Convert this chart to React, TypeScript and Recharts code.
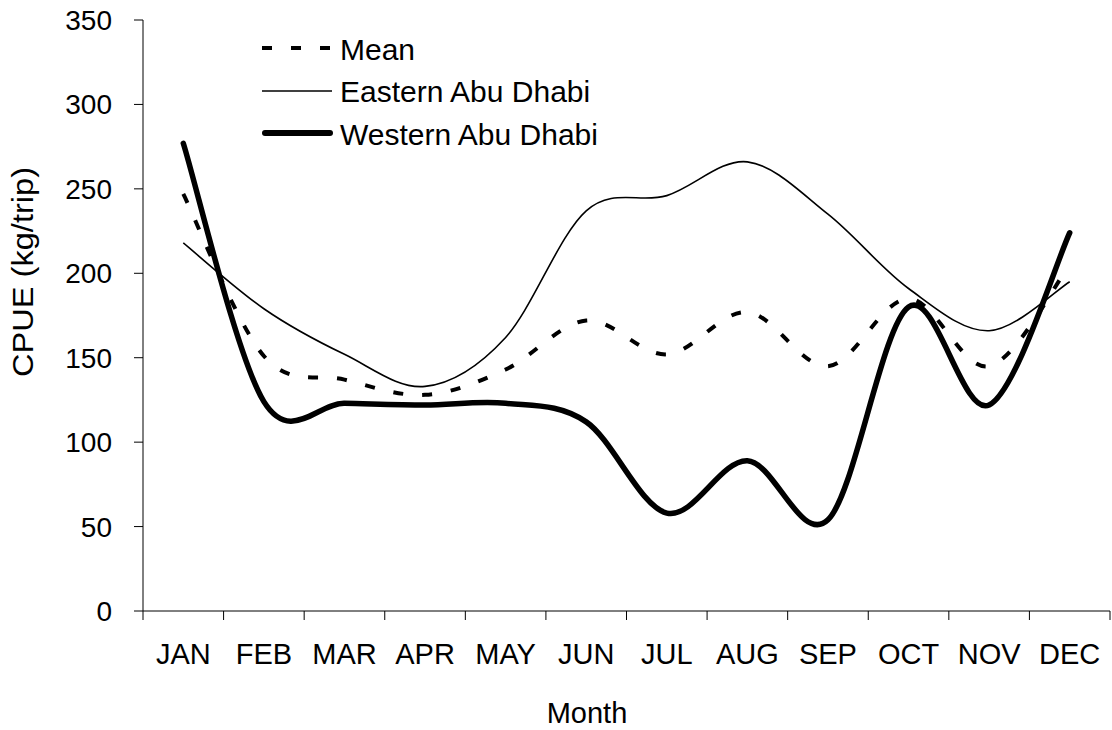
import React from 'react';
import { LineChart, Line, XAxis, YAxis, Legend } from 'recharts';

const months = ['JAN', 'FEB', 'MAR', 'APR', 'MAY', 'JUN', 'JUL', 'AUG', 'SEP', 'OCT', 'NOV', 'DEC'];
const meanValues = [247, 151, 137, 128, 143, 172, 152, 177, 145, 185, 145, 205];
const easternValues = [218, 179, 152, 133, 162, 237, 246, 266, 235, 191, 166, 195];
const westernValues = [277, 124, 123, 122, 123, 112, 58, 89, 54, 180, 122, 224];
const yTicks = [0, 50, 100, 150, 200, 250, 300, 350];

const data = months.map((m, i) => ({
  month: m,
  mean: meanValues[i],
  eastern: easternValues[i],
  western: westernValues[i],
}));

const FONT = '"Liberation Sans", Arial, Helvetica, sans-serif';
const W = 1112;
const H = 730;
const MARGIN = { top: 20, right: 2, left: 0, bottom: 0 };
const Y_AXIS_W = 143;
const X_AXIS_H = 119;
const X_TICK_SIZE = 9;
const X_TICK_MARGIN = 23;

// Catmull-Rom style smoothing (similar to Excel's smoothed line)
function smoothCurve(context: any) {
  let pts: [number, number][] = [];
  return {
    areaStart() {},
    areaEnd() {},
    lineStart() {
      pts = [];
    },
    lineEnd() {
      const n = pts.length;
      if (n === 0) return;
      context.moveTo(pts[0][0], pts[0][1]);
      for (let i = 0; i < n - 1; i++) {
        const p0 = pts[Math.max(i - 1, 0)];
        const p1 = pts[i];
        const p2 = pts[i + 1];
        const p3 = pts[Math.min(i + 2, n - 1)];
        context.bezierCurveTo(
          p1[0] + (p2[0] - p0[0]) / 6,
          p1[1] + (p2[1] - p0[1]) / 6,
          p2[0] - (p3[0] - p1[0]) / 6,
          p2[1] - (p3[1] - p1[1]) / 6,
          p2[0],
          p2[1]
        );
      }
    },
    point(x: number, y: number) {
      pts.push([+x, +y]);
    },
  };
}

const MonthTick = (props: any) => {
  const { x, y, payload, index } = props;
  const plotW = W - MARGIN.left - MARGIN.right - Y_AXIS_W;
  const half = payload && payload.offset ? payload.offset : plotW / months.length / 2;
  const axisY = y - X_TICK_SIZE - X_TICK_MARGIN;
  return (
    <g>
      <line x1={x - half} x2={x - half} y1={axisY} y2={axisY + X_TICK_SIZE} stroke="#000" strokeWidth={1} />
      {index === months.length - 1 && (
        <line x1={x + half} x2={x + half} y1={axisY} y2={axisY + X_TICK_SIZE} stroke="#000" strokeWidth={1} />
      )}
      <text x={x} y={y} dy="0.71em" textAnchor="middle" fill="#000" fontSize={29} fontFamily={FONT}>
        {payload.value}
      </text>
    </g>
  );
};

const LegendContent = () => (
  <svg width={420} height={160} style={{ overflow: 'visible' }}>
    <g fontFamily={FONT} fontSize={30} fill="#000">
      <line x1={12} x2={82} y1={38} y2={38} stroke="#000" strokeWidth={4} strokeDasharray="10 19" />
      <text x={90} y={50}>Mean</text>
      <line x1={12} x2={82} y1={81} y2={81} stroke="#000" strokeWidth={1.6} />
      <text x={90} y={92}>Eastern Abu Dhabi</text>
      <line x1={15} x2={80} y1={123} y2={123} stroke="#000" strokeWidth={6} strokeLinecap="round" />
      <text x={90} y={135}>Western Abu Dhabi</text>
    </g>
  </svg>
);

const YLabel = () => (
  <text
    x={33}
    y={272}
    transform="rotate(-90 33 272)"
    textAnchor="middle"
    fontFamily={FONT}
    fontSize={29}
    fill="#000"
    textLength={210}
    lengthAdjust="spacingAndGlyphs"
  >
    CPUE (kg/trip)
  </text>
);

const XLabel = () => (
  <text x={587} y={723} textAnchor="middle" fontFamily={FONT} fontSize={29} fill="#000">
    Month
  </text>
);

export default function App() {
  return (
    <div style={{ position: 'absolute', left: 0, top: 0, width: W, height: H, background: '#fff' }}>
      <LineChart width={W} height={H} data={data} margin={MARGIN}>
        <XAxis
          dataKey="month"
          scale="band"
          height={X_AXIS_H}
          tickLine={false}
          tickSize={X_TICK_SIZE}
          tickMargin={X_TICK_MARGIN}
          axisLine={{ stroke: '#000', strokeWidth: 1 }}
          tick={<MonthTick />}
          interval={0}
          label={<XLabel />}
        />
        <YAxis
          width={Y_AXIS_W}
          domain={[0, 350]}
          ticks={yTicks}
          interval={0}
          tickSize={9}
          tickMargin={22}
          axisLine={{ stroke: '#000', strokeWidth: 1 }}
          tickLine={{ stroke: '#000', strokeWidth: 1 }}
          tick={{ fill: '#000', fontSize: 28, fontFamily: FONT }}
          label={<YLabel />}
        />
        <Legend
          layout="vertical"
          align="center"
          verticalAlign="middle"
          wrapperStyle={{ position: 'absolute', left: 250, top: 10, width: 420, height: 160 }}
          content={<LegendContent />}
        />
        <Line
          dataKey="eastern"
          name="Eastern Abu Dhabi"
          type={smoothCurve as any}
          stroke="#000"
          strokeWidth={1.6}
          dot={false}
          activeDot={false}
          isAnimationActive={false}
        />
        <Line
          dataKey="mean"
          name="Mean"
          type={smoothCurve as any}
          stroke="#000"
          strokeWidth={4}
          strokeDasharray="10 19"
          dot={false}
          activeDot={false}
          isAnimationActive={false}
        />
        <Line
          dataKey="western"
          name="Western Abu Dhabi"
          type={smoothCurve as any}
          stroke="#000"
          strokeWidth={5.5}
          strokeLinecap="round"
          dot={false}
          activeDot={false}
          isAnimationActive={false}
        />
      </LineChart>
    </div>
  );
}
